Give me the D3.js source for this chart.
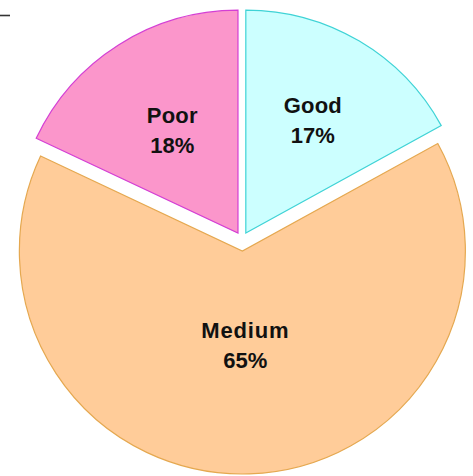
<!DOCTYPE html>
<html>
<head>
<meta charset="utf-8">
<script src="https://cdn.jsdelivr.net/npm/d3@7"></script>
<style>
  html, body { margin: 0; padding: 0; background: #fff; }
  svg { display: block; }
</style>
</head>
<body>
<div id="main"></div>
<script>
// data
var categories = ["Good", "Medium", "Poor"];
var values = [17, 65, 18];
var fills = ["#ccffff", "#ffcc99", "#fb96cb"];
var strokes = ["#3fd3d6", "#e5a850", "#d43fd4"];

var width = 473,
    height = 476,
    center = {x: 242, y: 239.5},
    radius = 223;

// label distance from the slice tip, as share of the radius
var labelDist = [0.59, 0.42, 0.55];

var svg = d3.select("#main").append("svg")
    .attr("width", width)
    .attr("height", height);

// little stray tick in the corner
svg.append("line")
    .attr("x1", 0).attr("x2", 10)
    .attr("y1", 15.5).attr("y2", 15.5)
    .attr("stroke", "#333")
    .attr("stroke-width", 1.6);

var pie = d3.pie().sort(null).startAngle(0).endAngle(2 * Math.PI);
var arcs = pie(values);

var arc = d3.arc().innerRadius(0).outerRadius(radius);

// how far each slice is pulled out
function explode(d){
    return d.data > 50 ? 11.5 : 7.5;
}
function offset(d){
    var mid = (d.startAngle + d.endAngle) / 2,
        e = explode(d);
    return {x: Math.sin(mid) * e, y: -Math.cos(mid) * e};
}

var g = svg.append("g")
    .attr("transform", "translate(" + center.x + "," + center.y + ")");

var slice = g.selectAll(".slice")
    .data(arcs)
    .enter()
    .append("g")
    .attr("class", "slice")
    .attr("transform", function(d){
        var o = offset(d);
        return "translate(" + o.x + "," + o.y + ")";
    });

slice.append("path")
    .attr("d", arc)
    .attr("fill", function(d, i){ return fills[i]; })
    .attr("stroke", function(d, i){ return strokes[i]; })
    .attr("stroke-width", 1.2)
    .attr("stroke-linejoin", "miter");

var total = d3.sum(values);

var label = slice.append("text")
    .attr("text-anchor", "middle")
    .attr("font-family", "'Liberation Sans', Arial, sans-serif")
    .attr("font-weight", "bold")
    .attr("font-size", "22px")
    .attr("fill", "#111")
    .attr("transform", function(d, i){
        var mid = (d.startAngle + d.endAngle) / 2,
            lr = radius * labelDist[i];
        return "translate(" + (Math.sin(mid) * lr) + "," + (-Math.cos(mid) * lr) + ")";
    });

label.append("tspan")
    .attr("x", 0)
    .attr("y", -7)
    .attr("letter-spacing", function(d, i){ return i === 1 ? "0.8px" : "0.2px"; })
    .text(function(d, i){ return categories[i]; });

label.append("tspan")
    .attr("x", 0)
    .attr("y", 23)
    .text(function(d){ return Math.round(d.data / total * 100) + "%"; });
</script>
</body>
</html>
